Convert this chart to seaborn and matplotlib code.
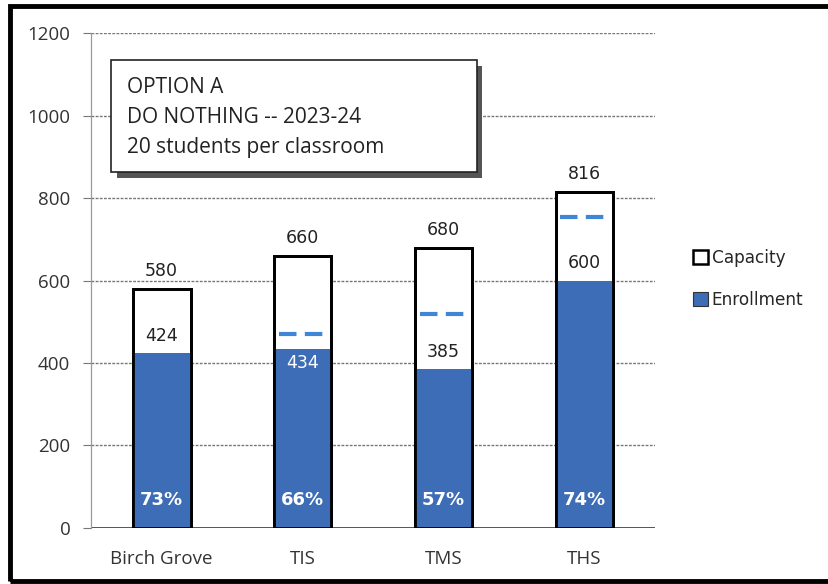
import matplotlib
matplotlib.use("Agg")
import matplotlib.pyplot as plt
import seaborn as sns
import pandas as pd
from matplotlib.patches import Patch, Rectangle

schools = ["Birch Grove", "TIS", "TMS", "THS"]
capacity = [580, 660, 680, 816]
enrollment = [424, 434, 385, 600]
pct_labels = ["73%", "66%", "57%", "74%"]
target_line = [None, 470, 520, 755]
yticks = [0, 200, 400, 600, 800, 1000, 1200]
title_lines = ["OPTION A", "DO NOTHING -- 2023-24", "20 students per classroom"]

BLUE = "#3d6db6"
DASH_BLUE = "#3f86d6"

sns.set_theme(style="white")
plt.rcParams["font.family"] = ["Open Sans", "DejaVu Sans"]

df = pd.DataFrame({"school": schools, "capacity": capacity, "enrollment": enrollment})

fig = plt.figure(figsize=(8.29, 5.84), dpi=100)
ax = fig.add_axes([0.110, 0.096, 0.680, 0.847])

W = 0.41
sns.barplot(data=df, x="school", y="capacity", order=schools, color="white",
            edgecolor="black", linewidth=2.0, width=W, ax=ax, zorder=3, saturation=1)
sns.barplot(data=df, x="school", y="enrollment", order=schools, color=BLUE,
            edgecolor="none", linewidth=0, width=W, ax=ax, zorder=4, saturation=1)
sns.barplot(data=df, x="school", y="capacity", order=schools, fill=False,
            edgecolor="black", linewidth=2.0, width=W, ax=ax, zorder=5)

ax.set_xlim(-0.5, 3.5)
ax.set_ylim(0, 1200)
ax.set_yticks(yticks)
ax.set_yticklabels([str(v) for v in yticks], fontsize=13.5, color="#333333")
ax.set_xlabel("")
ax.set_ylabel("")
ax.tick_params(axis="x", length=0, pad=16, labelsize=13.5, labelcolor="#333333")
ax.tick_params(axis="y", length=6, width=0.8, color="#777777", left=True, pad=9)
for s in ["top", "right", "bottom"]:
    ax.spines[s].set_visible(False)
ax.spines["left"].set_color("#999999")
ax.spines["left"].set_linewidth(0.9)
for v in yticks:
    ax.axhline(v, color="#777777" if v else "#555555", lw=1.0 if v else 1.4,
               ls=(0, (2, 1)) if v else "-", zorder=1)

for i, (c, e, p, t) in enumerate(zip(capacity, enrollment, pct_labels, target_line)):
    ax.text(i, c + 22, str(c), ha="center", va="bottom", fontsize=12.5,
            family="DejaVu Sans", color="#222222", zorder=6)
    if i == 1:
        ax.text(i, e - 12, str(e), ha="center", va="top", fontsize=12.5,
                family="DejaVu Sans", color="white", zorder=6)
    else:
        ax.text(i, e + 20, str(e), ha="center", va="bottom", fontsize=12.5,
                family="DejaVu Sans", color="#222222", zorder=6)
    ax.text(i, 68, p, ha="center", va="center", fontsize=13,
            family="DejaVu Sans", color="white", fontweight="bold", zorder=6)
    if t is not None:
        ax.hlines(t, i - W / 2 + 0.035, i + W / 2 - 0.02, colors=DASH_BLUE, lw=3,
                  linestyles=(0, (4.2, 2.0)), zorder=6)

handles = [Patch(facecolor="white", edgecolor="black", lw=1.8, label="Capacity"),
           Patch(facecolor=BLUE, edgecolor="#333333", lw=0.8, label="Enrollment")]
fig.legend(handles=handles, loc="center left", bbox_to_anchor=(0.826, 0.522),
           frameon=False, borderpad=0, handlelength=0.85, handleheight=0.9,
           handletextpad=0.25, labelspacing=1.42,
           prop={"family": "DejaVu Sans", "size": 12.2})

# text box with shadow
bx0, by0, bw, bh = 0.134, 0.705, 0.441, 0.192
fig.patches.append(Rectangle((bx0 + 0.007, by0 - 0.010), bw, bh, transform=fig.transFigure,
                             facecolor="#555555", edgecolor="none", zorder=8))
fig.patches.append(Rectangle((bx0, by0), bw, bh, transform=fig.transFigure,
                             facecolor="white", edgecolor="#222222", lw=1.2, zorder=9))
for k, line in enumerate(title_lines):
    fig.text(0.153, 0.851 - k * 0.0515, line, ha="left", va="center", fontsize=15,
             color="#222222", zorder=10)

# outer scanned frame
fig.patches.append(Rectangle((0.0115, 0.005), 1.2, 0.984, transform=fig.transFigure,
                             facecolor="none", edgecolor="black", lw=3.5, zorder=20))

fig.savefig("out.png", dpi=100)
